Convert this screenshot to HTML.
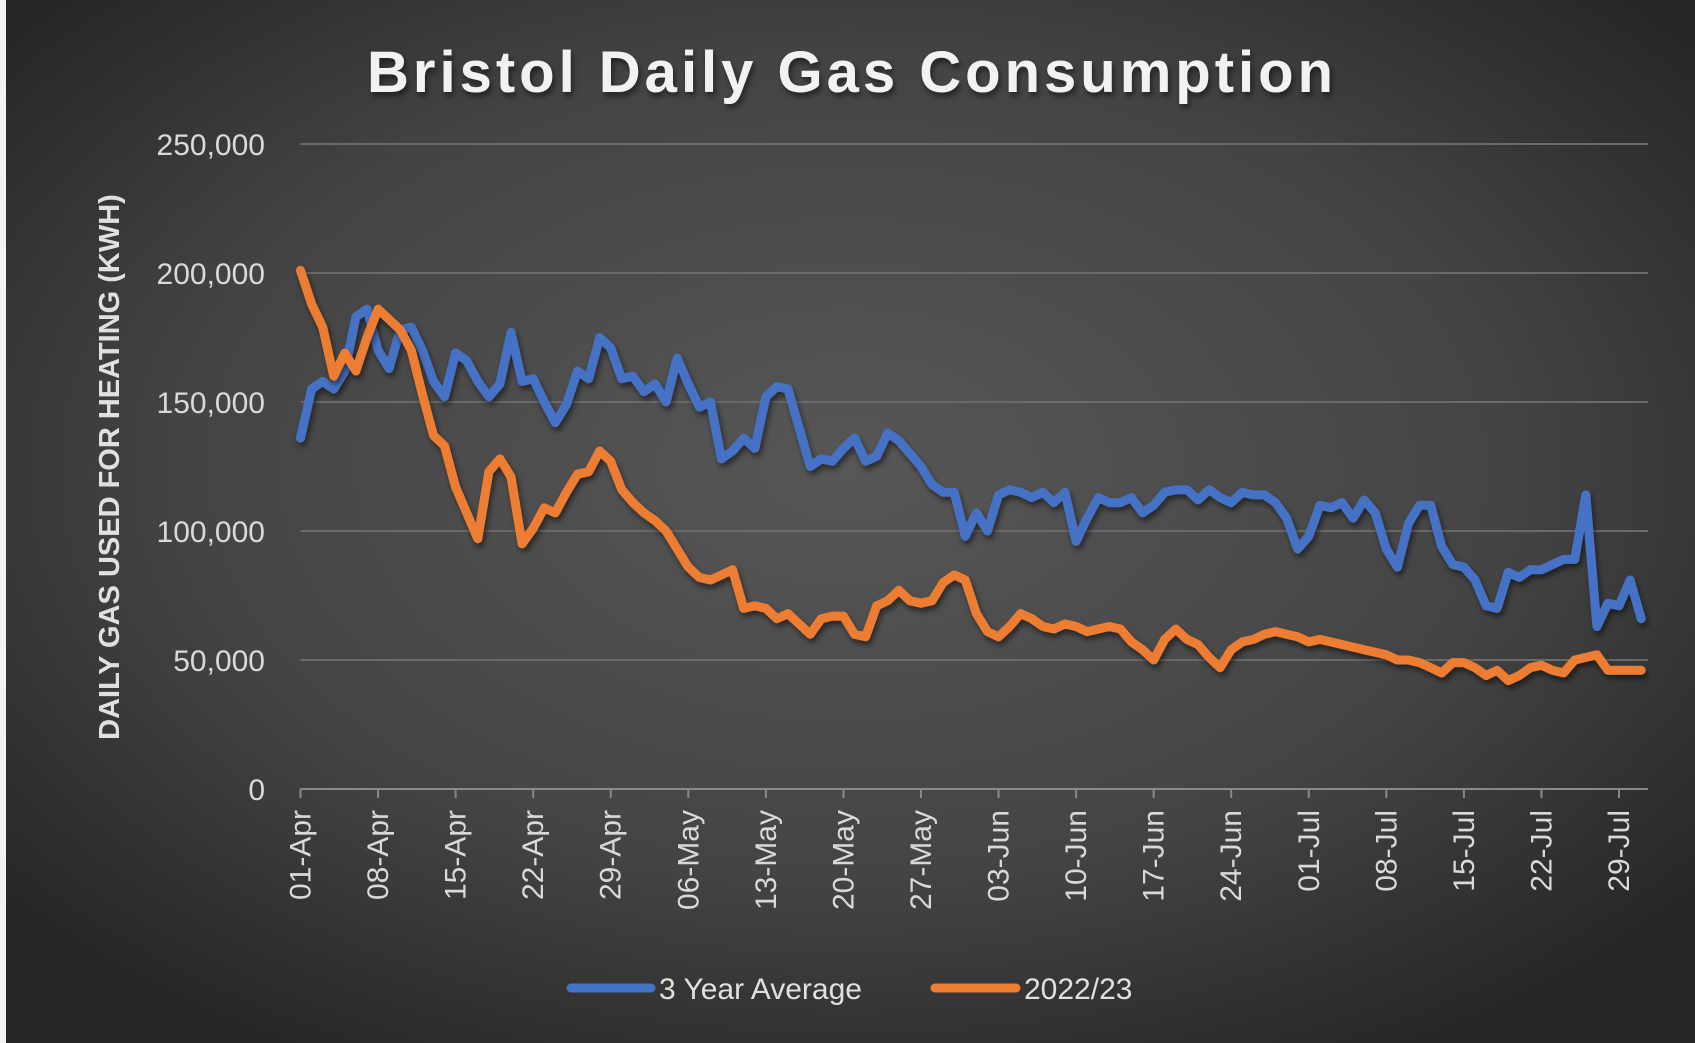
<!DOCTYPE html>
<html><head><meta charset="utf-8"><style>
body{margin:0;width:1695px;height:1043px;overflow:hidden;background:#333}
svg{display:block}
text{font-family:"Liberation Sans",sans-serif}
</style></head><body>
<svg id="chart" width="1695" height="1043" viewBox="0 0 1695 1043">
<defs>
<radialGradient id="bg" cx="50%" cy="45%" r="65%">
<stop offset="0" stop-color="#575757"/><stop offset="0.6" stop-color="#444"/><stop offset="1" stop-color="#262626"/>
</radialGradient>
<filter id="sh" x="-5%" y="-5%" width="110%" height="115%"><feDropShadow dx="2" dy="4" stdDeviation="3" flood-color="#000" flood-opacity="0.5"/></filter>
</defs>
<rect x="0" y="0" width="1695" height="1043" fill="url(#bg)"/>
<rect x="0" y="0" width="6" height="1043" fill="#f2f2f2"/>
<text x="852" y="92" text-anchor="middle" font-size="58" font-weight="bold" fill="#f2f2f2" letter-spacing="4" filter="url(#sh)">Bristol Daily Gas Consumption</text>
<text transform="translate(119,467) rotate(-90)" text-anchor="middle" font-size="29" font-weight="bold" fill="#e0e0e0">DAILY GAS USED FOR HEATING (KWH)</text>
<g id="grid"></g><g id="xaxis"></g><g id="lines"></g>
<g>
<line x1="571" y1="988" x2="651" y2="988" stroke="#4472c4" stroke-width="9" stroke-linecap="round"/>
<text x="659" y="999" font-size="30" fill="#e0e0e0">3 Year Average</text>
<line x1="935" y1="988" x2="1016" y2="988" stroke="#ed7d31" stroke-width="9" stroke-linecap="round"/>
<text x="1024" y="999" font-size="30" fill="#e0e0e0">2022/23</text>
</g>
</svg>
<script>
const avg3yr=[136,155,158,155,162,183,186,170,163,178,179,170,158,152,169,166,158,152,157,177,158,159,150,142,149,162,159,175,171,159,160,154,157,150,167,157,148,150,128,131,136,132,152,156,155,140,125,128,127,132,136,127,129,138,135,130,125,118,115,115,98,107,100,114,116,115,113,115,111,115,96,105,113,111,111,113,107,110,115,116,116,112,116,113,111,115,114,114,111,105,93,98,110,109,111,105,112,107,93,86,103,110,110,94,87,86,81,71,70,84,82,85,85,87,89,89,114,63,72,71,81,66];
const y2022=[201,188,179,160,169,162,175,186,182,178,170,153,137,133,117,107,97,123,128,121,95,101,109,107,115,122,123,131,127,116,111,107,104,100,93,86,82,81,83,85,70,71,70,66,68,64,60,66,67,67,60,59,71,73,77,73,72,73,80,83,81,68,61,59,63,68,66,63,62,64,63,61,62,63,62,57,54,50,58,62,58,56,51,47,54,57,58,60,61,60,59,57,58,57,56,55,54,53,52,50,50,49,47,45,49,49,47,44,46,42,44,47,48,46,45,50,51,52,46,46,46,46];
const yTicks=[0,50000,100000,150000,200000,250000];
const yTickLabels=["0","50,000","100,000","150,000","200,000","250,000"];
const xTickLabels=["01-Apr","08-Apr","15-Apr","22-Apr","29-Apr","06-May","13-May","20-May","27-May","03-Jun","10-Jun","17-Jun","24-Jun","01-Jul","08-Jul","15-Jul","22-Jul","29-Jul"];
const NS='http://www.w3.org/2000/svg';
const L=300.5,R=1648,Y0=789,Y250=144,n=avg3yr.length;
const xs=d=>L+d*11.08;
const ys=v=>Y0-(v/250000)*(Y0-Y250);
function mk(t,a,p){const e=document.createElementNS(NS,t);for(const k in a)e.setAttribute(k,a[k]);p.appendChild(e);return e;}
const grid=document.getElementById('grid');
yTicks.forEach((v,i)=>{
 if(v>0){const g=mk('line',{x1:L,x2:R,y1:ys(v),y2:ys(v),stroke:'#6a6a6a','stroke-width':2},grid);
 
 }
 const t=mk('text',{x:265,y:ys(v)+11,'text-anchor':'end','font-size':30,fill:'#d9d9d9'},grid);t.textContent=yTickLabels[i];
 
 
});
const xa=document.getElementById('xaxis');
const ax=mk('line',{x1:L,x2:R,y1:Y0,y2:Y0,stroke:'#8a8a8a','stroke-width':2},xa);


xTickLabels.forEach((s,i)=>{
 const x=xs(i*7);
 const tk=mk('line',{x1:x,x2:x,y1:Y0,y2:Y0+9,stroke:'#8a8a8a','stroke-width':2},xa);
 
 
 const t=mk('text',{transform:`translate(${x+10},${Y0+21}) rotate(-90)`,'text-anchor':'end','font-size':30,fill:'#d9d9d9'},xa);t.textContent=s;
 
 
});
const lg=document.getElementById('lines');
function series(arr,col,name){
 const pts=arr.map((v,i)=>xs(i).toFixed(1)+','+ys(v*1000).toFixed(1)).join(' ');
 const p=mk('polyline',{points:pts,fill:'none',stroke:col,'stroke-width':9,'stroke-linejoin':'round','stroke-linecap':'round',filter:'url(#sh)'},lg);
 
 
}
series(avg3yr,'#4472c4','series-3-year-average');
series(y2022,'#ed7d31','series-2022-23');
</script>
</body></html>
